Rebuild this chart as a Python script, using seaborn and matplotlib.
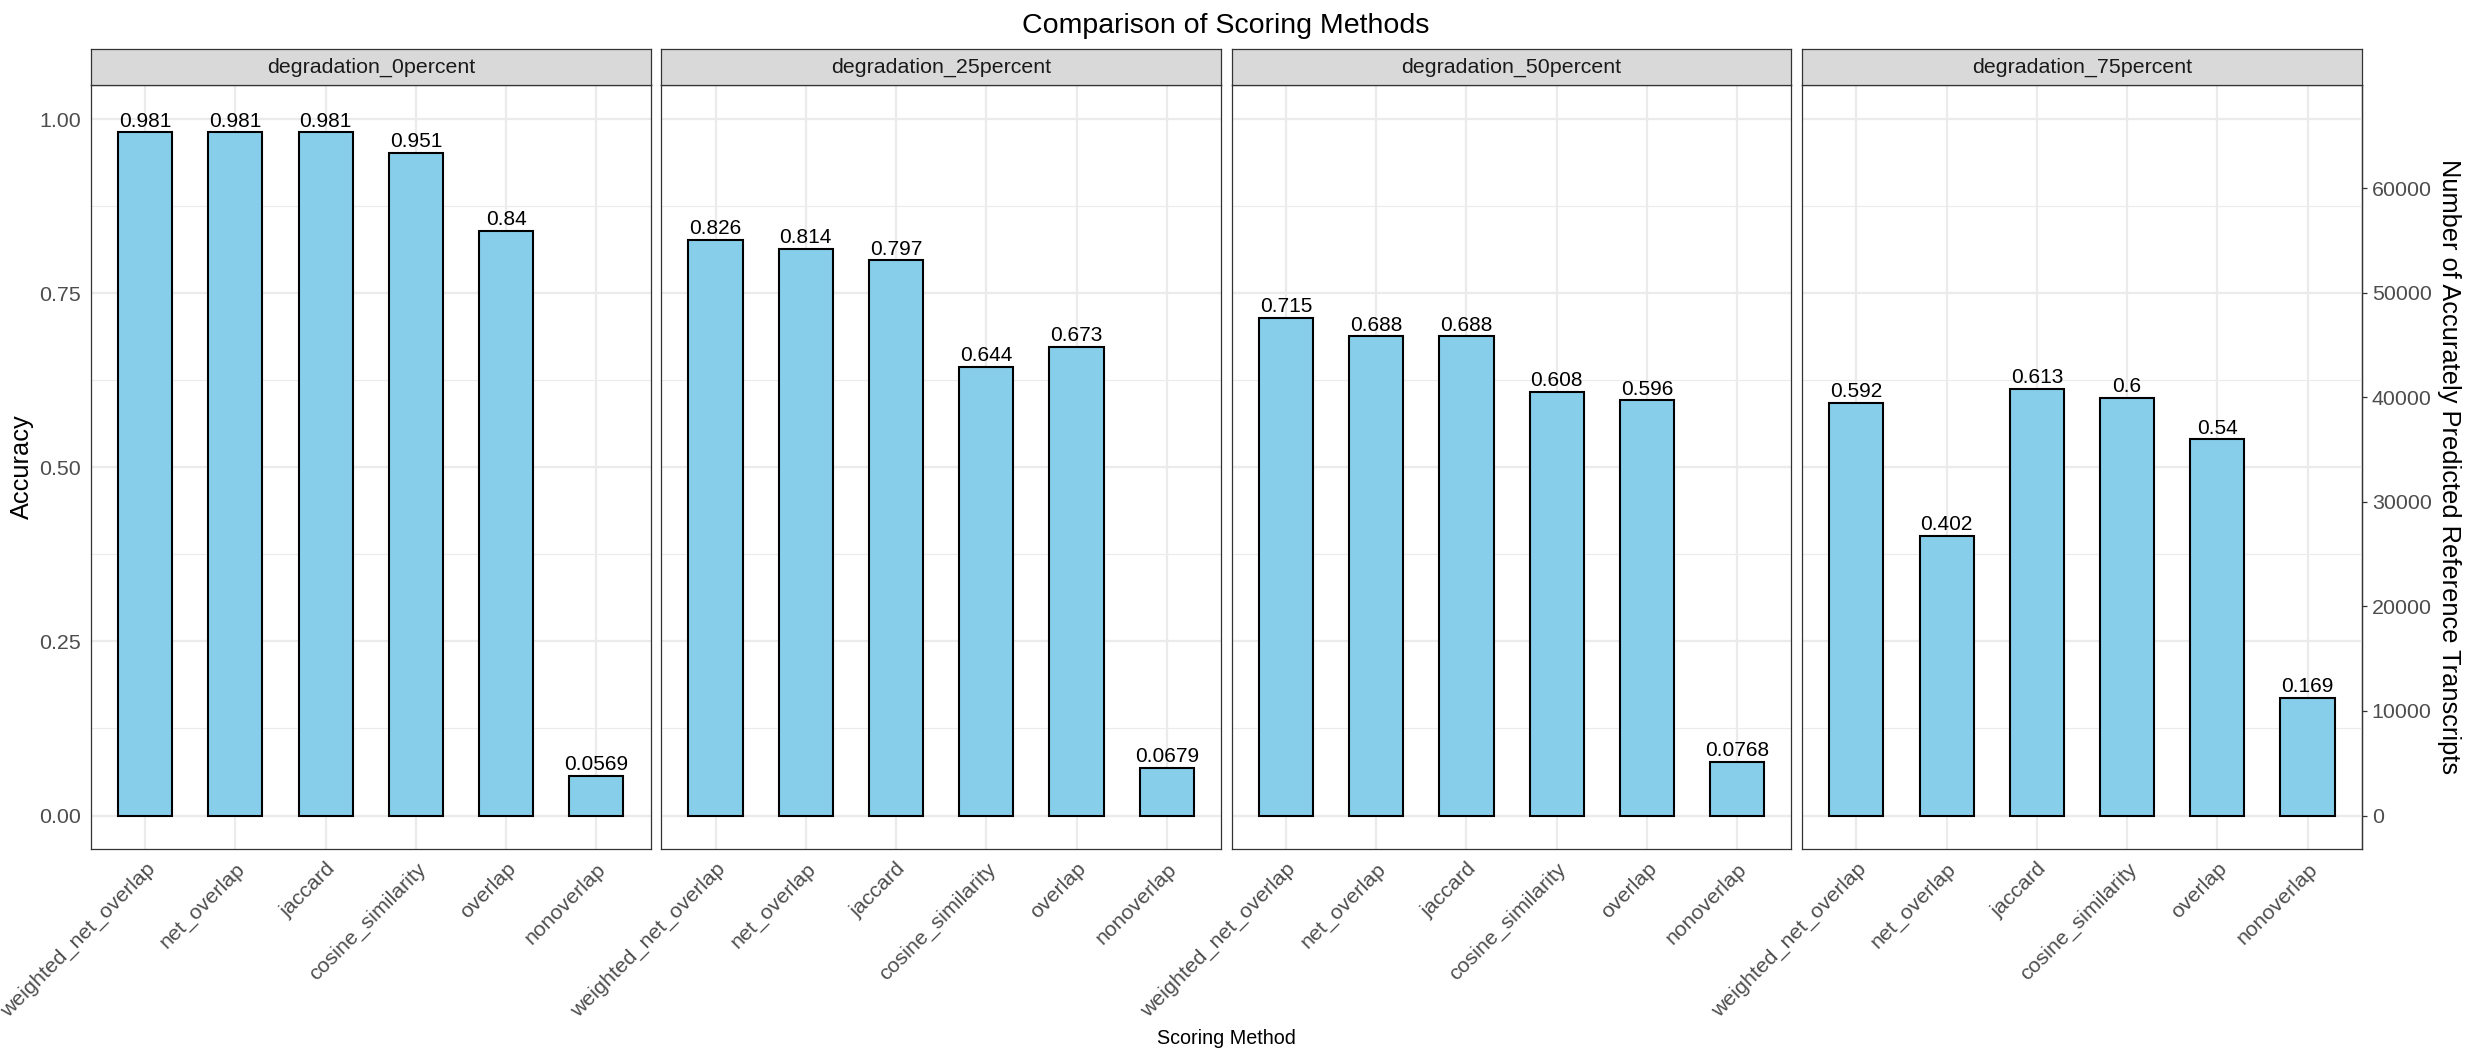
# Faceted bar chart: accuracy of each scoring method per degradation level
# with a secondary axis (transcript counts) on the last panel

import pandas as pd                  # for the long-format table
import seaborn as sns                # for the bars
import matplotlib.pyplot as plt      # for the figure layout

# categories
methods = ["weighted_net_overlap", "net_overlap", "jaccard",
           "cosine_similarity", "overlap", "nonoverlap"]
conditions = ["degradation_0percent", "degradation_25percent",
              "degradation_50percent", "degradation_75percent"]

# accuracy per condition (same order as methods)
acc_0 = [0.981, 0.981, 0.981, 0.951, 0.84, 0.0569]
acc_25 = [0.826, 0.814, 0.797, 0.644, 0.673, 0.0679]
acc_50 = [0.715, 0.688, 0.688, 0.608, 0.596, 0.0768]
acc_75 = [0.592, 0.402, 0.613, 0.6, 0.54, 0.169]

# secondary axis: accuracy 1.0 corresponds to this many transcripts
n_transcripts = 66600
count_ticks = [0, 10000, 20000, 30000, 40000, 50000, 60000]
acc_ticks = [0.0, 0.25, 0.5, 0.75, 1.0]
acc_minor = [0.125, 0.375, 0.625, 0.875]
acc_labels = ["0.00", "0.25", "0.50", "0.75", "1.00"]

rows = []
for cond, vals in zip(conditions, [acc_0, acc_25, acc_50, acc_75]):
    for m, v in zip(methods, vals):
        rows.append({"condition": cond, "method": m, "accuracy": v})
df = pd.DataFrame(rows)

sns.set_theme(style="white")
plt.rcParams["font.family"] = ["Liberation Sans", "DejaVu Sans"]

W, H = 2472, 1058
fig = plt.figure(figsize=(W / 100, H / 100), dpi=100)

# panel geometry in pixels
left0, step, pw = 91, 570.4, 559.5
ptop, pbot = 85, 849.3
strip_top = 49

border = "#333333"
tick_col = "#4D4D4D"
grid_col = "#EBEBEB"

for i, cond in enumerate(conditions):
    sub = df[df.condition == cond]
    left = left0 + i * step
    ax = fig.add_axes([left / W, 1 - pbot / H, pw / W, (pbot - ptop) / H])
    ax.set_facecolor("white")

    sns.barplot(data=sub, x="method", y="accuracy", order=methods,
                color="#87CEEB", saturation=1, edgecolor="black",
                linewidth=1.5, width=0.6, errorbar=None, ax=ax, zorder=3)

    ax.set_xlim(-0.6, 5.6)
    ax.set_ylim(-0.0485, 1.049)
    ax.set_yticks(acc_ticks)
    ax.set_yticks(acc_minor, minor=True)
    ax.set_axisbelow(True)
    ax.grid(True, which="major", color=grid_col, linewidth=1.6)
    ax.grid(True, which="minor", axis="y", color=grid_col, linewidth=0.8)
    ax.set_xlabel("")
    ax.set_ylabel("")

    for sp in ax.spines.values():
        sp.set_color(border)
        sp.set_linewidth(0.9)

    ax.tick_params(axis="both", which="major", length=3.6, width=0.9,
                   color=border, labelcolor=tick_col, labelsize=15.4, pad=3.6)
    ax.tick_params(which="minor", length=0)
    if i == 0:
        ax.set_yticklabels(acc_labels)
    else:
        ax.tick_params(axis="y", left=False, labelleft=False)

    for lab in ax.get_xticklabels():
        lab.set_rotation(45)
        lab.set_ha("right")
        lab.set_va("top")
        lab.set_rotation_mode("anchor")

    # value labels with 3 significant digits
    ax.bar_label(ax.containers[0], labels=[f"{v:.3g}" for v in sub.accuracy],
                 padding=1.3, fontsize=15, color="black")

    # facet strip
    sax = fig.add_axes([left / W, 1 - ptop / H, pw / W, (ptop - strip_top) / H])
    sax.set_facecolor("#D9D9D9")
    sax.set_xticks([])
    sax.set_yticks([])
    for sp in sax.spines.values():
        sp.set_color(border)
        sp.set_linewidth(0.9)
    sax.text(0.5, 0.5, cond, ha="center", va="center", fontsize=15.4,
             color="#1A1A1A", transform=sax.transAxes)

    if i == len(conditions) - 1:
        sec = ax.secondary_yaxis("right", functions=(lambda a: a * n_transcripts,
                                                     lambda c: c / n_transcripts))
        sec.set_yticks(count_ticks)
        sec.set_yticklabels([str(c) for c in count_ticks])
        sec.tick_params(length=3.6, width=0.9, color=border,
                        labelcolor=tick_col, labelsize=15.4, pad=3.6)
        sec.spines["right"].set_color(border)
        sec.spines["right"].set_linewidth(0.9)

# titles
fig.text(1226 / W, 1 - 33.3 / H, "Comparison of Scoring Methods",
         ha="center", va="baseline", fontsize=20.5, color="black")
fig.text(1226 / W, 1 - 1044 / H, "Scoring Method",
         ha="center", va="baseline", fontsize=14.2, color="black")
fig.text(22 / W, 1 - 467 / H, "Accuracy", rotation=90,
         ha="center", va="center", fontsize=18.3, color="black")
fig.text(2449 / W, 1 - 466.5 / H, "Number of Accurately Predicted Reference Transcripts",
         rotation=-90, ha="center", va="center", fontsize=18.3, color="black")

fig.savefig("out.png", dpi=100)
